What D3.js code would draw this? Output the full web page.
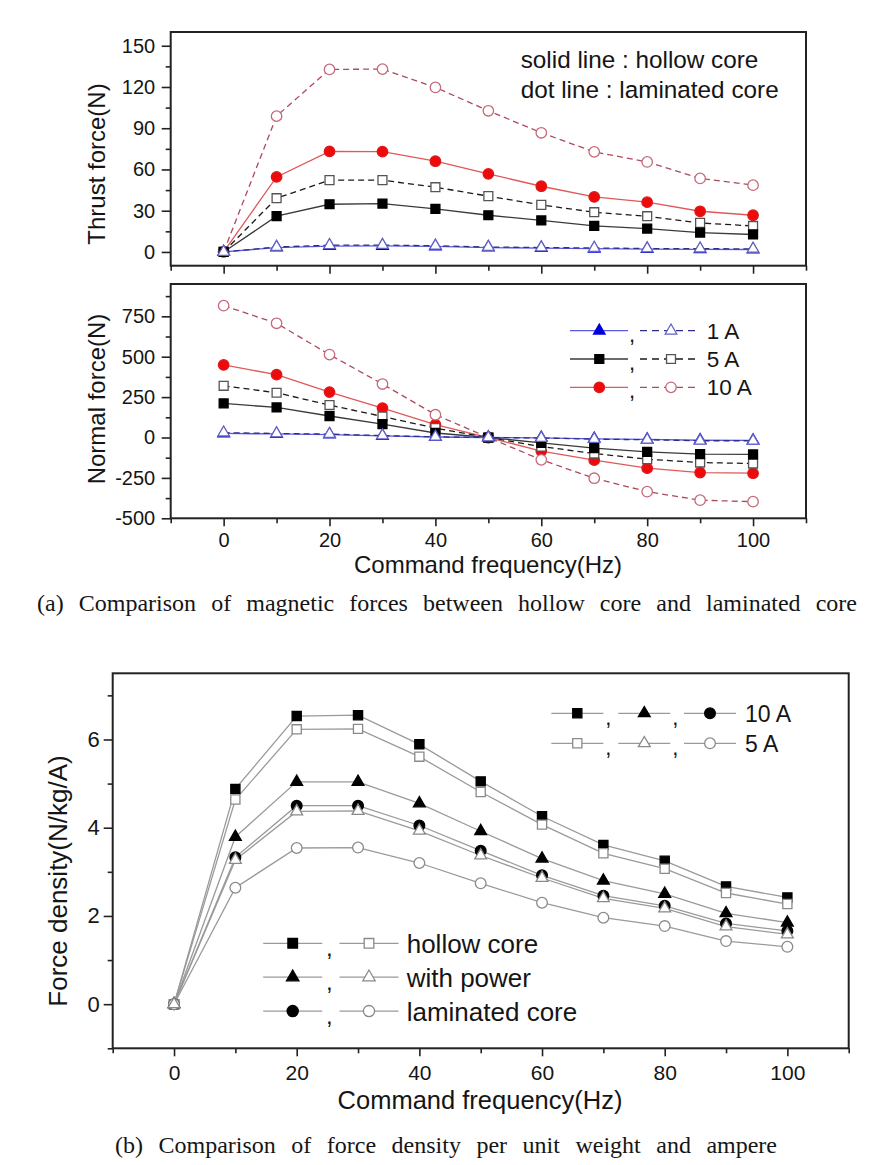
<!DOCTYPE html>
<html><head><meta charset="utf-8">
<script src="https://cdn.jsdelivr.net/npm/d3@7"></script>
<style>
body{margin:0;background:#fff}
svg{display:block}
text{font-family:"Liberation Sans",Arial,sans-serif;fill:#151515}
.cap{font-family:"Liberation Serif","Times New Roman",serif}
</style>
</head><body>
<svg id="c" width="887" height="1165"></svg>
<script>
// ---------------- DATA ----------------
const freq = [0,10,20,30,40,50,60,70,80,90,100];

// (a) thrust force (N)
const thrustHollow1  = [0, 3.2, 4.3, 4.4, 4.0, 3.2, 2.8, 2.4, 2.1, 1.9, 1.8];
const thrustLam1     = [0, 3.6, 4.9, 5.0, 4.5, 3.6, 3.2, 2.9, 2.5, 2.4, 2.2];
const thrustHollow5  = [0, 26, 34.7, 35.2, 31.3, 26.7, 22.9, 18.9, 17, 14.1, 12.7];
const thrustLam5     = [0, 39.1, 52.2, 52.2, 47.1, 40.6, 34.2, 28.9, 26, 21.1, 18.9];
const thrustHollow10 = [0, 54.6, 73.1, 73, 66, 56.8, 47.8, 40, 36.2, 29.6, 26.7];
const thrustLam10    = [0, 98.8, 132.8, 133, 119.7, 102.7, 86.7, 72.8, 65.5, 53.5, 48.6];

// (a) normal force (N)
const normalHollow1  = [25, 22, 18, 10, 3, 0, -2, -8, -12, -17, -18];
const normalLam1     = [30, 25, 21, 12, 4, 0, -3, -10, -14, -20, -20];
const normalHollow5  = [211, 186, 133, 83, 28, 0, -33, -66, -89, -103, -105];
const normalLam5     = [320, 277, 201, 130, 58, 0, -56, -99, -134, -155, -161];
const normalHollow10 = [449, 389, 281, 182, 79, 0, -84, -140, -190, -217, -221];
const normalLam10    = [816, 707, 513, 331, 141, 0, -138, -252, -335, -388, -397];

// (b) force density (N/kg/A)
const densHollow10 = [0, 4.88, 6.53, 6.55, 5.89, 5.05, 4.26, 3.61, 3.25, 2.67, 2.42];
const densHollow5  = [0, 4.64, 6.23, 6.24, 5.61, 4.81, 4.07, 3.42, 3.07, 2.52, 2.27];
const densPower10  = [0, 3.79, 5.04, 5.04, 4.55, 3.92, 3.30, 2.80, 2.50, 2.06, 1.85];
const densPower5   = [0, 3.27, 4.37, 4.38, 3.93, 3.37, 2.86, 2.40, 2.17, 1.76, 1.58];
const densLam10    = [0, 3.33, 4.50, 4.50, 4.05, 3.48, 2.92, 2.46, 2.23, 1.83, 1.66];
const densLam5     = [0, 2.64, 3.54, 3.55, 3.20, 2.74, 2.30, 1.96, 1.77, 1.43, 1.30];

// ticks & labels
const xMajor = [0,20,40,60,80,100];
const xMinor = [-10,10,30,50,70,90,110];
const thrustMajor = [0,30,60,90,120,150];
const thrustMinor = [15,45,75,105,135];
const normalMajor = [-500,-250,0,250,500,750];
const normalMinor = [-375,-125,125,375,625,875];
const densMajor = [0,2,4,6];
const densMinor = [-1,1,3,5,7];

const currentLabels = ["1 A","5 A","10 A"];
const noteLabels = ["solid line : hollow core","dot line : laminated core"];
const coreLabels = ["hollow core","with power","laminated core"];
const ampLabels = ["10 A","5 A"];
const xTitle = "Command frequency(Hz)";
const captionA = "(a) Comparison of magnetic forces between hollow core and laminated core";
const captionB = "(b) Comparison of force density per unit weight and ampere";

// ---------------- STYLES ----------------
const ST = {
  h1:  {type:"tri", fill:"#0000dd", stroke:"#0000dd", line:"#5a5ae6", dash:null},
  l1:  {type:"tri", fill:"#fff", stroke:"#6262c4", line:"#2e2e86", dash:"6,4"},
  h5:  {type:"sq",  fill:"#000", stroke:"#000", line:"#3a3a3a", dash:null},
  l5:  {type:"sq",  fill:"#fff", stroke:"#555", line:"#1a1a1a", dash:"6,4"},
  h10: {type:"ci",  fill:"#ee0a0a", stroke:"#dd1a1a", line:"#e05858", dash:null},
  l10: {type:"ci",  fill:"#fff", stroke:"#c46a7a", line:"#ad4a5c", dash:"6,4"}
};
const symType = {tri:d3.symbolTriangle, sq:d3.symbolSquare, ci:d3.symbolCircle};
const symSize = {tri:58, sq:80, ci:86};
const fmt = d => String(d);

const svg = d3.select("#c");

function drawMarker(g, t, x, y, fill, stroke, scale) {
  const s = scale||1;
  g.append("path")
    .attr("d", d3.symbol().type(symType[t]).size(symSize[t]*s)())
    .attr("transform", `translate(${x},${y})`)
    .attr("fill", fill).attr("stroke", stroke).attr("stroke-width", 1.3);
}

function frame(x, y, o) {
  const [x0,x1] = x.range(), [y0,y1] = y.range();
  const g = svg.append("g");
  const ax = g.append("g").attr("transform",`translate(0,${y0})`)
    .call(d3.axisBottom(x).tickValues(xMajor).tickSize(o.xTick).tickPadding(o.xPad)
      .tickFormat(o.xLabels ? fmt : ""));
  const axm = g.append("g").attr("transform",`translate(0,${y0})`)
    .call(d3.axisBottom(x).tickValues(xMinor).tickSize(5).tickFormat(""));
  const ay = g.append("g").attr("transform",`translate(${x0},0)`)
    .call(d3.axisLeft(y).tickValues(o.yMajor).tickSize(o.yTick).tickPadding(o.yPad).tickFormat(fmt));
  const aym = g.append("g").attr("transform",`translate(${x0},0)`)
    .call(d3.axisLeft(y).tickValues(o.yMinor).tickSize(5).tickFormat(""));
  [ax,axm,ay,aym].forEach(a=>{
    a.select(".domain").remove();
    a.selectAll("line").attr("stroke","#222").attr("stroke-width",1.6);
    a.selectAll("text").attr("font-family",'"Liberation Sans",Arial,sans-serif').attr("fill","#151515");
  });
  ax.selectAll("text").attr("font-size",o.xFont);
  ay.selectAll("text").attr("font-size",o.yFont);
  g.append("rect").attr("x",x0).attr("y",y1).attr("width",x1-x0).attr("height",y0-y1)
    .attr("fill","none").attr("stroke","#222").attr("stroke-width",2);
  return g;
}

function series(g, x, y, vals, st) {
  const line = d3.line().x((d,i)=>x(freq[i])).y(d=>y(d));
  g.append("path").attr("d", line(vals)).attr("fill","none")
    .attr("stroke", st.line).attr("stroke-width",1.3)
    .attr("stroke-dasharray", st.dash);
  vals.forEach((v,i)=>drawMarker(g, st.type, x(freq[i]), y(v), st.fill, st.stroke));
}

function caption(txt, x0, x1, yb, size) {
  const t = svg.append("text").attr("class","cap").attr("x",x0).attr("y",yb)
    .attr("font-size",size).text(txt);
  const natural = t.node().getComputedTextLength();
  const spaces = (txt.match(/ /g)||[]).length;
  t.attr("word-spacing", Math.max(0,(x1-x0-natural)/spaces));
}

// ---------------- (a) TOP: THRUST ----------------
const xA = d3.scaleLinear().domain([-10,110]).range([170.7,806]);
const yT = d3.scaleLinear().domain([-10,160]).range([265.7,32]);
frame(xA, yT, {xTick:8, xPad:6, xLabels:false, xFont:20, yMajor:thrustMajor, yMinor:thrustMinor, yTick:9, yPad:6.5, yFont:20});
const gT = svg.append("g");
[[thrustHollow10,ST.h10],[thrustLam10,ST.l10],[thrustLam5,ST.l5],[thrustHollow5,ST.h5],[thrustHollow1,ST.h1],[thrustLam1,ST.l1]]
  .forEach(([v,s])=>series(gT,xA,yT,v,s));
svg.append("text").attr("transform","translate(105,164) rotate(-90)").attr("text-anchor","middle")
  .attr("font-size",24).text("Thrust force(N)");
noteLabels.forEach((t,i)=>svg.append("text").attr("x",520.7).attr("y",68+i*30).attr("font-size",24.3).text(t));

// ---------------- (a) MIDDLE: NORMAL ----------------
const yN = d3.scaleLinear().domain([-500,950]).range([518.3,284]);
frame(xA, yN, {xTick:8, xPad:6.5, xLabels:true, xFont:20, yMajor:normalMajor, yMinor:normalMinor, yTick:9, yPad:6.5, yFont:20});
const gN = svg.append("g");
[[normalHollow10,ST.h10],[normalLam10,ST.l10],[normalLam5,ST.l5],[normalHollow5,ST.h5],[normalHollow1,ST.h1],[normalLam1,ST.l1]]
  .forEach(([v,s])=>series(gN,xA,yN,v,s));
svg.append("text").attr("transform","translate(105,399) rotate(-90)").attr("text-anchor","middle")
  .attr("font-size",24).text("Normal force(N)");
svg.append("text").attr("x",488).attr("y",573).attr("text-anchor","middle").attr("font-size",24).text(xTitle);

// legend (middle)
const legRows = [[ST.h1,ST.l1],[ST.h5,ST.l5],[ST.h10,ST.l10]];
legRows.forEach(([hs,ls],i)=>{
  const cy = 330.7 + i*28.3;
  const lg = svg.append("g");
  lg.append("line").attr("x1",570).attr("x2",628).attr("y1",cy).attr("y2",cy).attr("stroke",hs.line).attr("stroke-width",1.3);
  drawMarker(lg, hs.type, 599.3, cy, hs.fill, hs.stroke);
  lg.append("text").attr("x",629).attr("y",cy+11).attr("font-size",22).text(",");
  lg.append("line").attr("x1",640).attr("x2",695).attr("y1",cy).attr("y2",cy).attr("stroke",ls.line).attr("stroke-width",1.3).attr("stroke-dasharray","7,5");
  drawMarker(lg, ls.type, 671, cy, ls.fill, ls.stroke);
  lg.append("text").attr("x",706.7).attr("y",cy+8).attr("font-size",22.5).text(currentLabels[i]);
});

caption(captionA, 37, 857, 611, 24);

// ---------------- (b) FORCE DENSITY ----------------
const xB = d3.scaleLinear().domain([-10,110]).range([112.7,848.7]);
const yB = d3.scaleLinear().domain([-1,7.5]).range([1048.3,673.3]);
frame(xB, yB, {xTick:8, xPad:9, xLabels:true, xFont:21, yMajor:densMajor, yMinor:densMinor, yTick:9, yPad:4, yFont:22});
const gB = svg.append("g");
const bSt = {
  h10:{type:"sq", fill:"#000", stroke:"#000"}, h5:{type:"sq", fill:"#fff", stroke:"#8a8a8a"},
  p10:{type:"tri",fill:"#000", stroke:"#000"}, p5:{type:"tri",fill:"#fff", stroke:"#8a8a8a"},
  l10:{type:"ci", fill:"#000", stroke:"#000"}, l5:{type:"ci", fill:"#fff", stroke:"#8a8a8a"}
};
const bSeries = [[densHollow10,bSt.h10],[densHollow5,bSt.h5],[densPower10,bSt.p10],[densLam10,bSt.l10],[densLam5,bSt.l5],[densPower5,bSt.p5]];
const lineB = d3.line().x((d,i)=>xB(freq[i])).y(d=>yB(d));
bSeries.forEach(([v])=>gB.append("path").attr("d",lineB(v)).attr("fill","none").attr("stroke","#9a9a9a").attr("stroke-width",1.3));
bSeries.forEach(([v,s])=>v.forEach((d,i)=>drawMarker(gB,s.type,xB(freq[i]),yB(d),s.fill,s.stroke,1.05)));

svg.append("text").attr("transform","translate(67,881) rotate(-90)").attr("text-anchor","middle")
  .attr("font-size",26).text("Force density(N/kg/A)");
svg.append("text").attr("x",480).attr("y",1109).attr("text-anchor","middle").attr("font-size",25.5).text(xTitle);

// legend top-right
const ampRows = [[bSt.h10,bSt.p10,bSt.l10],[bSt.h5,bSt.p5,bSt.l5]];
ampRows.forEach((row,i)=>{
  const cy = 713.3 + i*30;
  const mx = [577.3,644.3,710];
  row.forEach((s,j)=>{
    svg.append("line").attr("x1",mx[j]-26).attr("x2",mx[j]+26).attr("y1",cy).attr("y2",cy).attr("stroke","#9a9a9a").attr("stroke-width",1.3);
    drawMarker(svg,s.type,mx[j],cy,s.fill,s.stroke,1.05);
    if (j<2) svg.append("text").attr("x",mx[j]+28).attr("y",cy+12).attr("font-size",22).text(",");
  });
  svg.append("text").attr("x",745).attr("y",cy+8.5).attr("font-size",23).text(ampLabels[i]);
});

// legend bottom-left
const coreRows = [[bSt.h10,bSt.h5],[bSt.p10,bSt.p5],[bSt.l10,bSt.l5]];
coreRows.forEach((row,i)=>{
  const cy = 943.3 + i*33.9;
  const mx = [292.7,369];
  row.forEach((s,j)=>{
    svg.append("line").attr("x1",mx[j]-29.5).attr("x2",mx[j]+29.5).attr("y1",cy).attr("y2",cy).attr("stroke","#9a9a9a").attr("stroke-width",1.3);
    drawMarker(svg,s.type,mx[j],cy,s.fill,s.stroke,1.15);
    if (j<1) svg.append("text").attr("x",326).attr("y",cy+13).attr("font-size",24).text(",");
  });
  svg.append("text").attr("x",406.7).attr("y",cy+9.5).attr("font-size",26).text(coreLabels[i]);
});

caption(captionB, 115, 777, 1153, 24);
</script>
</body></html>
